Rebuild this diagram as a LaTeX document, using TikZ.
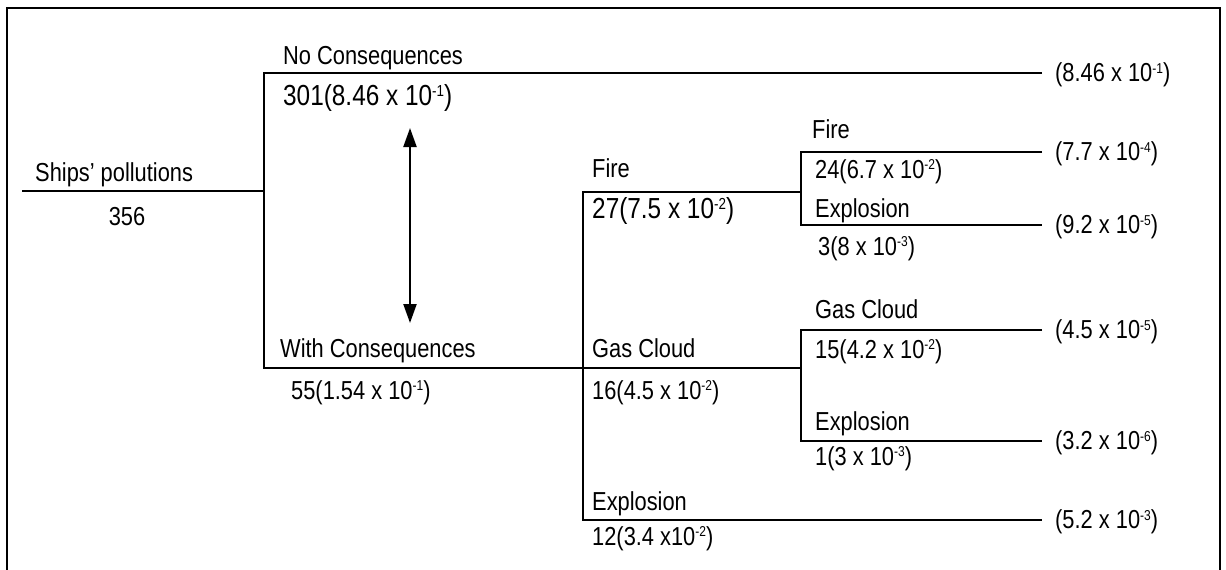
\documentclass[tikz,border=0pt]{standalone}
\usepackage{fontspec}
\usepackage{graphicx}
\setmainfont{Liberation Sans}[FakeStretch=0.84]
\usetikzlibrary{arrows.meta}
% small raised exponent, top level with the capitals
\newcommand{\ex}[1]{\raisebox{0.31em}{\scalebox{0.55}{#1}}}

\begin{document}
\begin{tikzpicture}[x=1pt,y=-1pt,
  branch/.style={line width=2.2pt},
  frameline/.style={line width=2pt},
  lbl/.style={anchor=base west,inner sep=0pt,font=\fontsize{26}{30}\selectfont},
  big/.style={lbl,font=\fontsize{29}{34}\selectfont},
  res/.style={anchor=west,inner sep=0pt,xshift=13pt,yshift=-2pt,font=\fontsize{26}{30}\selectfont},
  dblarrow/.style={line width=2.2pt,{Triangle[length=19pt,width=13pt]}-{Triangle[length=19pt,width=13pt]}},
]
\useasboundingbox (0,0) rectangle (1226,570);

% outer frame (open at the bottom)
\draw[frameline] (7,570) -- (7,8) -- (1220,8) -- (1220,570);

% junctions of the event tree
\coordinate (root)    at (22,191);
\coordinate (split0)  at (264,191);
\coordinate (nc)      at (264,73);
\coordinate (ncEnd)   at (1042,73);
\coordinate (wc)      at (264,368);
\coordinate (split1)  at (583,368);
\coordinate (fire)    at (583,192);
\coordinate (fireSplit) at (801,192);
\coordinate (expl)    at (583,520);
\coordinate (explEnd) at (1042,520);
\coordinate (gasSplit) at (801,368);
\coordinate (f2)      at (801,152);
\coordinate (f2End)   at (1042,152);
\coordinate (e2)      at (801,225);
\coordinate (e2End)   at (1042,225);
\coordinate (g3)      at (801,330);
\coordinate (g3End)   at (1042,330);
\coordinate (e3)      at (801,441);
\coordinate (e3End)   at (1042,441);
\coordinate (atop)    at (410,128);
\coordinate (abot)    at (410,323);

% branches
\draw[branch] (root) -- (split0);
\draw[branch] (ncEnd) -- (nc) -- (wc) -- (split1) -- (gasSplit);
\draw[branch] (fireSplit) -- (fire) -- (expl) -- (explEnd);
\draw[branch] (f2End) -- (f2) -- (e2) -- (e2End);
\draw[branch] (g3End) -- (g3) -- (e3) -- (e3End);
\draw[dblarrow] (atop) -- (abot);

% labels
\node[lbl] (shipsT) at (35,181) {Ships' pollutions};
\node[lbl,anchor=base] (shipsN) at (127,225) {356};
\node[lbl] (ncT) at (283,64) {No Consequences};
\node[big] (ncN) at (283,105) {301(8.46 x 10\ex{-1})};
\node[lbl] (wcT) at (280,357) {With Consequences};
\node[lbl] (wcN) at (291,399) {55(1.54 x 10\ex{-1})};

\node[lbl] (fireT) at (592,177) {Fire};
\node[big] (fireN) at (592,218) {27(7.5 x 10\ex{-2})};
\node[lbl] (gasT) at (592,357) {Gas Cloud};
\node[lbl] (gasN) at (592,399) {16(4.5 x 10\ex{-2})};
\node[lbl] (explT) at (592,510) {Explosion};
\node[lbl] (explN) at (592,545) {12(3.4 x10\ex{-2})};

\node[lbl] (f2T) at (812,138) {Fire};
\node[lbl] (f2N) at (815,178) {24(6.7 x 10\ex{-2})};
\node[lbl] (e2T) at (815,217) {Explosion};
\node[lbl] (e2N) at (818,255) {3(8 x 10\ex{-3})};
\node[lbl] (g3T) at (815,318) {Gas Cloud};
\node[lbl] (g3N) at (815,358) {15(4.2 x 10\ex{-2})};
\node[lbl] (e3T) at (815,430) {Explosion};
\node[lbl] (e3N) at (815,465) {1(3 x 10\ex{-3})};

% end probabilities
\node[res] (r1) at (ncEnd)   {(8.46 x 10\ex{-1})};
\node[res] (r2) at (f2End)   {(7.7 x 10\ex{-4})};
\node[res] (r3) at (e2End)   {(9.2 x 10\ex{-5})};
\node[res] (r4) at (g3End)   {(4.5 x 10\ex{-5})};
\node[res] (r5) at (e3End)   {(3.2 x 10\ex{-6})};
\node[res] (r6) at (explEnd) {(5.2 x 10\ex{-3})};
\end{tikzpicture}
\end{document}
